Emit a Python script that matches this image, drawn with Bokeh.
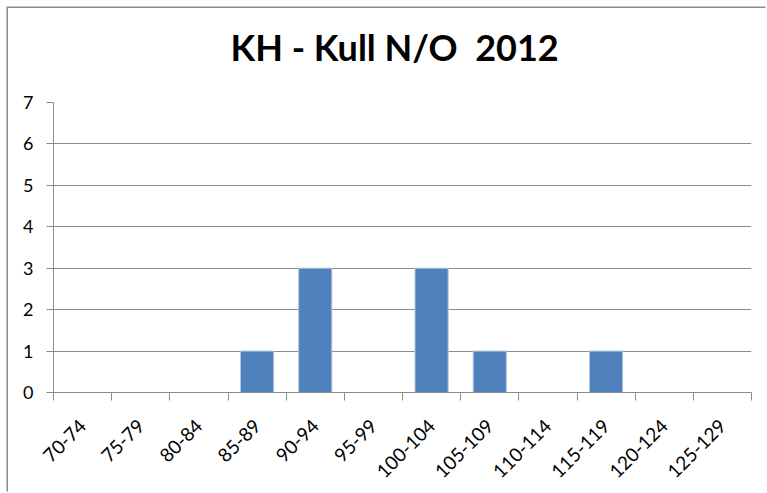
import numpy as np
from bokeh.plotting import figure
from bokeh.models import Range1d, FixedTicker, Title
from bokeh.embed import file_html
from bokeh.resources import INLINE

title_text = "KH - Kull N/O  2012"
categories = ["70-74", "75-79", "80-84", "85-89", "90-94", "95-99",
              "100-104", "105-109", "110-114", "115-119", "120-124", "125-129"]
counts = [0, 0, 0, 1, 3, 0, 3, 1, 0, 1, 0, 0]
y_ticks = [0, 1, 2, 3, 4, 5, 6, 7]

FONT = "Lato"
GRAY = "#8c8c8c"

n = len(categories)
centers = list(np.arange(n) + 0.5)
edges = list(range(n + 1))

p = figure(width=759, height=485, output_backend="svg", toolbar_location=None,
           x_range=Range1d(0, n), y_range=Range1d(0, 7),
           min_border_left=45, min_border_right=16, min_border_top=94,
           min_border_bottom=101,
           styles={"margin-left": "8px", "margin-top": "8px",
                   "box-shadow": f"-1.5px -1.5px 0 0 {GRAY}"})
p.outline_line_color = None
p.background_fill_color = "white"
p.border_fill_color = "white"

# spacer between the frame and the title
p.add_layout(Title(text="\u00a0", text_font_size="10px", standoff=14,
                   text_color="white"), "above")

# keep the double space of the original title visible
p.title.text = title_text.replace("  ", "\u00a0 ")
p.title.align = "left"
p.title.offset = 177
p.title.vertical_align = "top"
p.title.standoff = 10
p.title.text_font = FONT
p.title.text_font_size = "36px"
p.title.text_font_style = "bold"
p.title.text_color = "black"

p.vbar(x=centers, top=counts, width=0.57, bottom=0,
       fill_color="#4F81BD", line_color="#B4C7E0", line_width=1)

# x axis: tick marks at bin edges, labels at bin centres
p.xaxis.ticker = FixedTicker(ticks=centers, minor_ticks=edges)
p.xaxis.major_label_overrides = {c: lab for c, lab in zip(centers, categories)}
p.xaxis.major_tick_line_color = None
p.xaxis.minor_tick_line_color = GRAY
p.xaxis.minor_tick_out = 8
p.xaxis.minor_tick_in = 0
p.xaxis.axis_line_color = GRAY
p.xaxis.major_label_orientation = np.pi / 4
p.xaxis.major_label_text_font = FONT
p.xaxis.major_label_text_font_size = "19px"
p.xaxis.major_label_text_color = "black"
p.xaxis.major_label_standoff = 22
p.xgrid.grid_line_color = None

p.yaxis.ticker = FixedTicker(ticks=y_ticks, minor_ticks=[])
p.yaxis.major_tick_line_color = GRAY
p.yaxis.major_tick_out = 7
p.yaxis.major_tick_in = 0
p.yaxis.axis_line_color = GRAY
p.yaxis.major_label_text_font = FONT
p.yaxis.major_label_text_font_size = "18px"
p.yaxis.major_label_text_color = "black"
p.yaxis.major_label_standoff = 13
p.ygrid.grid_line_color = GRAY
p.ygrid.grid_line_width = 1

open("out.html", "w").write(file_html(p, INLINE))
